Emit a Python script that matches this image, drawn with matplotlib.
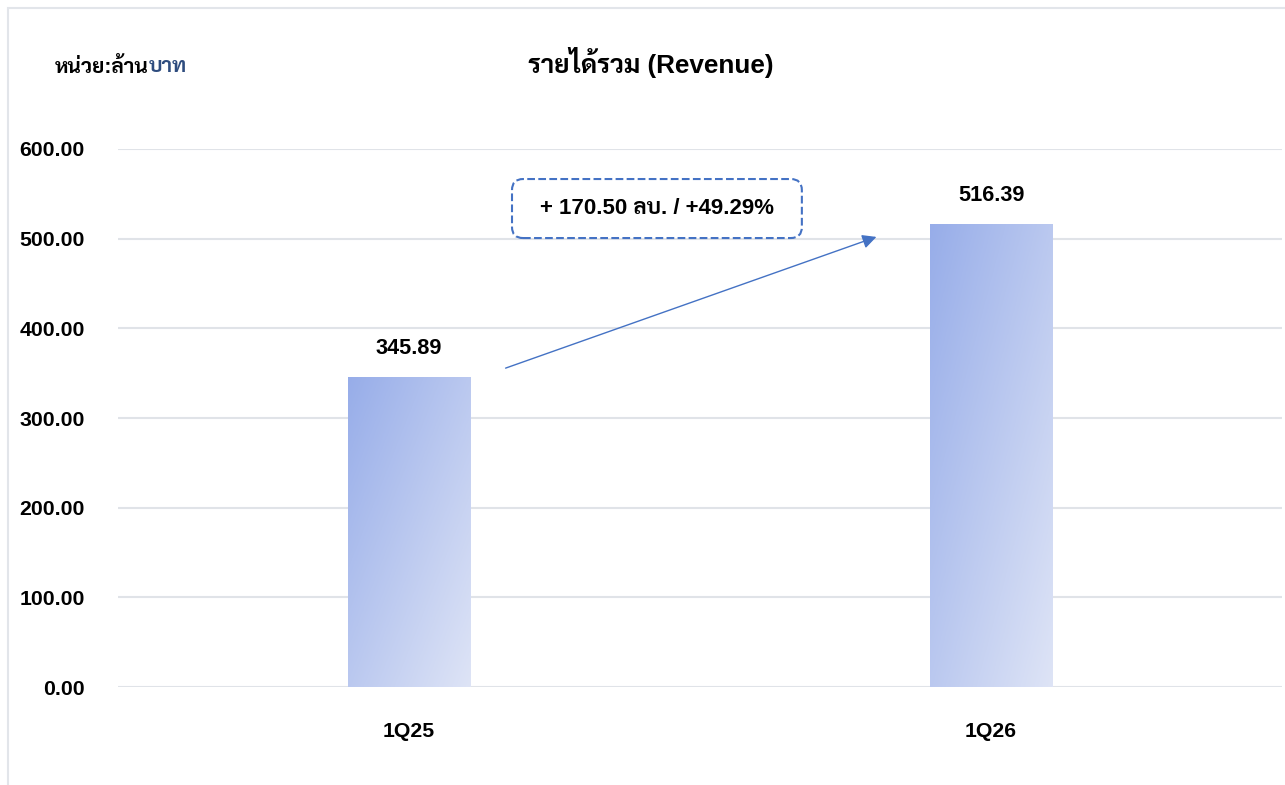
import numpy as np
import matplotlib
matplotlib.use("Agg")
import matplotlib.pyplot as plt
from matplotlib.colors import LinearSegmentedColormap
from matplotlib.patches import Rectangle, FancyBboxPatch
from matplotlib.transforms import IdentityTransform

# data
quarters = ["1Q25", "1Q26"]
revenue = [345.89, 516.39]
y_ticks = [0, 100, 200, 300, 400, 500, 600]

fonts = ["Liberation Sans", "Sarabun", "Noto Sans Thai Looped", "Noto Sans Thai", "DejaVu Sans"]
plt.rcParams["font.family"] = fonts

fig = plt.figure(figsize=(12.85, 7.85), dpi=100)
ax = fig.add_axes([0.0918, 0.1248, 0.9059, 0.6854])

# outer frame of the chart area (left and top edges visible)
fig.patches.append(Rectangle((8 / 1285, -0.1), 1.2, 1.1 - 8 / 785, transform=fig.transFigure,
                             fill=False, edgecolor="#E2E5EA", linewidth=1.5))

# gradient bars
cmap = LinearSegmentedColormap.from_list("grad", ["#97ADE9", "#DEE4F6"])
u, v = np.meshgrid(np.linspace(0, 1, 100), np.linspace(0, 1, 200))
grad = (u + v) / 2
width = 0.21
x = np.arange(len(quarters))
bars = ax.bar(x, revenue, width=width, color="none", zorder=3)
for b in bars:
    im = ax.imshow(grad, cmap=cmap, vmin=0, vmax=1, aspect="auto", origin="upper",
                   extent=[b.get_x(), b.get_x() + b.get_width(), 0, b.get_height()], zorder=3)
    im.set_clip_path(b)
ax.set_xlim(-0.5, 1.5)
ax.set_ylim(0, 600)

# value labels
for xi, val in zip(x, revenue):
    ax.annotate(f"{val:.2f}", (xi, val), xytext=(0, 28), textcoords="offset pixels",
                ha="center", va="center", fontsize=15.6, fontweight="bold")

# grid and axes
ax.set_yticks(y_ticks)
ax.set_yticklabels([f"{t:.2f}" for t in y_ticks], fontsize=15.3, fontweight="bold")
ax.set_xticks(x)
ax.set_xticklabels(quarters, fontsize=15.3, fontweight="bold")
ax.tick_params(axis="y", length=0, pad=24)
ax.tick_params(axis="x", length=0, pad=25)
ax.grid(axis="y", color="#E0E3E8", linewidth=1.5, zorder=0)
ax.set_axisbelow(True)
for s in ax.spines.values():
    s.set_visible(False)

# change arrow and box
diff = revenue[1] - revenue[0]
pct = diff / revenue[0] * 100
ax.annotate("", xy=(0.8076, 503), xytext=(0.1615, 354.6),
            arrowprops=dict(arrowstyle="-|>", color="#4472C4", lw=1.0, mutation_scale=21))

(bx0, by0), (bx1, by1) = ax.transData.transform([(0.177, 500.7), (0.675, 566.5)])
box = FancyBboxPatch((bx0, by0), bx1 - bx0, by1 - by0, boxstyle="round,pad=0,rounding_size=11",
                     transform=IdentityTransform(), facecolor="white", edgecolor="#4472C4",
                     linestyle="--", linewidth=1.5, zorder=4, clip_on=False)
ax.add_patch(box)
ax.text(0.426, 534, f"+ {diff:.2f} ลบ. / +{pct:.2f}%", ha="center", va="center",
        fontsize=16, fontweight="bold", zorder=5)

# titles
fig.text(651 / 1285, 1 - 62 / 785, "รายได้รวม (Revenue)", ha="center", va="center",
         fontsize=18.8, fontweight="bold")
unit = fig.text(55 / 1285, 1 - 67 / 785, "หน่วย:ล้าน", ha="left", va="center",
                fontsize=15, fontweight="bold")
fig.canvas.draw()
bb = unit.get_window_extent()
fig.text(bb.x1 / 1285, 1 - 67 / 785, "บาท", ha="left", va="center",
         fontsize=15, fontweight="bold", color="#2E4C7E")

fig.savefig("out.png", dpi=100)
